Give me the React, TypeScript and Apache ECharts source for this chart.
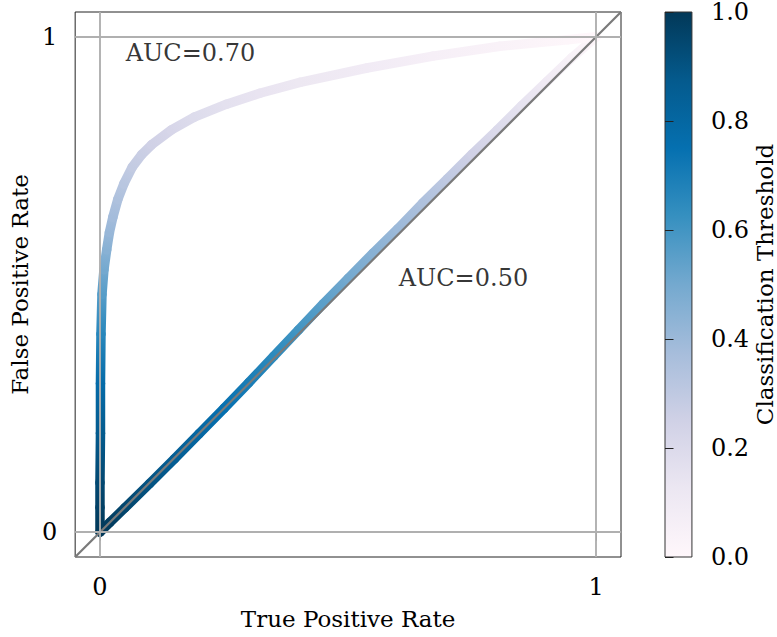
import React, { useEffect, useRef } from 'react';
import * as echarts from 'echarts';

// PuBu colormap stops (0 -> 1)
const PUBU = ['#fff7fb', '#ece7f2', '#d0d1e6', '#a6bddb', '#74a9cf', '#3690c0', '#0570b0', '#045a8d', '#023858'];

// Curve A (AUC=0.70 label): x, y, threshold
const CURVE_A_X = [0.0, 0.0, 0.0, 0.001, 0.001, 0.002, 0.004, 0.008, 0.0135, 0.019, 0.026, 0.036, 0.048, 0.065, 0.084, 0.104, 0.144, 0.19, 0.255, 0.322, 0.403, 0.538, 0.671, 0.806, 0.942, 1.0];
const CURVE_A_Y = [0.0, 0.05, 0.1, 0.2, 0.3, 0.4, 0.48, 0.53, 0.57, 0.605, 0.636, 0.672, 0.703, 0.737, 0.762, 0.782, 0.812, 0.838, 0.864, 0.886, 0.908, 0.937, 0.961, 0.981, 0.994, 1.0];
const CURVE_A_T = [1.0, 0.97, 0.94, 0.87, 0.78, 0.66, 0.56, 0.5, 0.45, 0.41, 0.38, 0.35, 0.32, 0.29, 0.27, 0.25, 0.22, 0.19, 0.16, 0.14, 0.12, 0.09, 0.06, 0.04, 0.01, 0.0];

// Curve B (AUC=0.50 label): x, y, threshold
const CURVE_B_X = [0.0, 0.02, 0.05, 0.1, 0.15, 0.2, 0.25, 0.3, 0.35, 0.4, 0.45, 0.5, 0.55, 0.6, 0.65, 0.7, 0.75, 0.8, 0.85, 0.9, 0.95, 1.0];
const CURVE_B_Y = [0.0, 0.02, 0.049, 0.098, 0.148, 0.199, 0.25, 0.302, 0.355, 0.408, 0.461, 0.512, 0.563, 0.612, 0.664, 0.713, 0.763, 0.811, 0.861, 0.909, 0.957, 1.0];
const CURVE_B_T = [1.0, 0.98, 0.95, 0.9, 0.85, 0.8, 0.75, 0.7, 0.65, 0.6, 0.55, 0.5, 0.45, 0.4, 0.35, 0.3, 0.25, 0.2, 0.15, 0.1, 0.05, 0.0];

const AXIS_TICKS = [0, 1];
const AXIS_RANGE = [-0.05, 1.05];
const CBAR_RANGE = [0, 1];
const CBAR_STEP = 0.2;
const AUC_LABELS = ['AUC=0.70', 'AUC=0.50'];
const AUC_POS = [[0.052, 0.968], [0.602, 0.514]];

const FONT = 'DejaVu Serif';

function segments(xs: number[], ys: number[], ts: number[]) {
  const out: number[][] = [];
  for (let i = 0; i < xs.length - 1; i++) {
    out.push([xs[i], ys[i], xs[i + 1], ys[i + 1], ts[i], ts[i + 1]]);
  }
  return out;
}

function renderSeg(params: any, api: any) {
  const p1 = api.coord([api.value(0), api.value(1)]);
  const p2 = api.coord([api.value(2), api.value(3)]);
  const c1 = echarts.color.lerp(api.value(4), PUBU);
  const c2 = echarts.color.lerp(api.value(5), PUBU);
  const same = Math.abs(p1[0] - p2[0]) + Math.abs(p1[1] - p2[1]) < 0.01;
  const stroke = same
    ? c1
    : new echarts.graphic.LinearGradient(p1[0], p1[1], p2[0], p2[1], [
        { offset: 0, color: c1 },
        { offset: 1, color: c2 },
      ], true);
  return {
    type: 'line',
    shape: { x1: p1[0], y1: p1[1], x2: p2[0], y2: p2[1] },
    style: { stroke, lineWidth: 9.5, lineCap: 'round' },
  };
}

export default function App() {
  const ref = useRef<HTMLDivElement>(null);
  useEffect(() => {
    if (!ref.current) return;
    const chart = echarts.init(ref.current, null, { renderer: 'svg' });
    const grid0 = { left: 75, top: 12, width: 546, height: 545 };
    const option: any = {
      animation: false,
      textStyle: { fontFamily: FONT },
      grid: [
        { ...grid0, show: true, borderColor: '#222', borderWidth: 1, backgroundColor: 'transparent' },
        {
          left: 665, top: 12, width: 27, height: 545, show: true, borderColor: '#333', borderWidth: 1,
          backgroundColor: new echarts.graphic.LinearGradient(0, 1, 0, 0, PUBU.map((c, i) => ({ offset: i / (PUBU.length - 1), color: c }))),
        },
      ],
      xAxis: [
        {
          gridIndex: 0, type: 'value', min: AXIS_RANGE[0], max: AXIS_RANGE[1],
          axisLine: { show: false }, splitLine: { show: false },
          axisTick: { show: true, customValues: AXIS_TICKS, length: 8.5, lineStyle: { color: '#222', width: 1 } },
          axisLabel: { customValues: AXIS_TICKS, fontSize: 24, color: '#000', margin: 18, fontFamily: FONT, formatter: (v: number) => String(v) },
          name: 'True Positive Rate', nameLocation: 'middle', nameGap: 50,
          nameTextStyle: { fontSize: 23, fontFamily: FONT, color: '#000' },
        },
        { gridIndex: 1, type: 'value', show: false, min: 0, max: 1 },
      ],
      yAxis: [
        {
          gridIndex: 0, type: 'value', min: AXIS_RANGE[0], max: AXIS_RANGE[1],
          axisLine: { show: false }, splitLine: { show: false },
          axisTick: { show: true, customValues: AXIS_TICKS, length: 8.5, lineStyle: { color: '#222', width: 1 } },
          axisLabel: { customValues: AXIS_TICKS, fontSize: 24, color: '#000', margin: 18, fontFamily: FONT, formatter: (v: number) => String(v) },
          name: 'False Positive Rate', nameLocation: 'middle', nameGap: 37, nameRotate: 90,
          nameTextStyle: { fontSize: 23, fontFamily: FONT, color: '#000' },
        },
        {
          gridIndex: 1, type: 'value', position: 'right', min: CBAR_RANGE[0], max: CBAR_RANGE[1], interval: CBAR_STEP,
          axisLine: { show: false }, splitLine: { show: false },
          axisTick: { show: true, length: 8.5, lineStyle: { color: '#222', width: 1 } },
          axisLabel: { fontSize: 24, color: '#000', margin: 19, fontFamily: FONT, formatter: (v: number) => v.toFixed(1) },
          name: 'Classification Threshold', nameLocation: 'middle', nameGap: 59, nameRotate: 90,
          nameTextStyle: { fontSize: 23, fontFamily: FONT, color: '#000' },
        },
      ],
      series: [
        {
          type: 'custom', xAxisIndex: 0, yAxisIndex: 0, renderItem: renderSeg,
          data: segments(CURVE_B_X, CURVE_B_Y, CURVE_B_T), encode: { x: [0, 2], y: [1, 3] }, silent: true, z: 2,
        },
        {
          type: 'custom', xAxisIndex: 0, yAxisIndex: 0, renderItem: renderSeg,
          data: segments(CURVE_A_X, CURVE_A_Y, CURVE_A_T), encode: { x: [0, 2], y: [1, 3] }, silent: true, z: 2,
        },
        {
          type: 'line', xAxisIndex: 0, yAxisIndex: 0, symbol: 'none', silent: true, z: 4,
          data: [[AXIS_RANGE[0], AXIS_RANGE[0]], [AXIS_RANGE[1], AXIS_RANGE[1]]],
          lineStyle: { color: '#7a7a7a', width: 2.2 },
          markLine: {
            silent: true, symbol: ['none', 'none'], label: { show: false },
            lineStyle: { color: '#b0b0b0', width: 1.9, type: 'solid' },
            data: [...AXIS_TICKS.map((v) => ({ xAxis: v })), ...AXIS_TICKS.map((v) => ({ yAxis: v }))],
          },
        },
        {
          type: 'scatter', xAxisIndex: 0, yAxisIndex: 0, symbolSize: 0, silent: true, z: 5,
          data: AUC_POS.map((p, i) => ({ value: p, name: AUC_LABELS[i] })),
          label: {
            show: true, position: 'right', distance: 0, formatter: (p: any) => p.name,
            fontSize: 24, fontFamily: FONT, color: '#000',
          },
        },
      ],
    };
    chart.setOption(option);
    return () => chart.dispose();
  }, []);
  return <div ref={ref} style={{ width: 777, height: 637, position: 'absolute', left: 0, top: 0 }} />;
}
